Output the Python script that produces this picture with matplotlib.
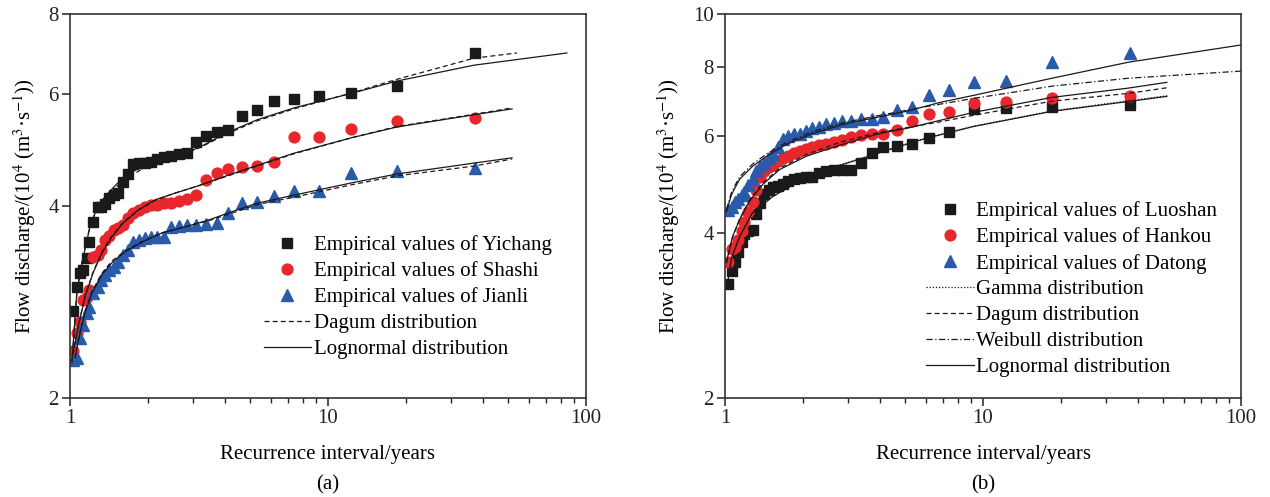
import matplotlib.pyplot as plt
from matplotlib.ticker import NullLocator

plt.rcParams['font.family'] = 'Liberation Serif'
plt.rcParams['mathtext.fontset'] = 'stix'

# plotting positions (recurrence interval, years), same for every station
T = [37.0, 18.5, 12.33, 9.25, 7.4, 6.17, 5.29, 4.63, 4.11, 3.7, 3.36, 3.08,
     2.85, 2.64, 2.47, 2.31, 2.18, 2.06, 1.95, 1.85, 1.76, 1.68, 1.61, 1.54,
     1.48, 1.42, 1.37, 1.32, 1.28, 1.23, 1.19, 1.16, 1.12, 1.09, 1.06, 1.03]

# (a) empirical values, 10^4 m3/s
yichang = [6.95, 6.17, 6.01, 5.95, 5.89, 5.84, 5.66, 5.54, 5.26, 5.22, 5.15, 5.04,
           4.84, 4.83, 4.79, 4.77, 4.74, 4.69, 4.67, 4.67, 4.65, 4.49, 4.36, 4.19,
           4.16, 4.12, 4.03, 3.99, 3.99, 3.77, 3.51, 3.32, 3.17, 3.14, 2.99, 2.74]
shashi = [5.50, 5.44, 5.28, 5.13, 5.13, 4.69, 4.62, 4.60, 4.57, 4.51, 4.39, 4.16,
          4.10, 4.07, 4.04, 4.04, 4.01, 4.01, 3.99, 3.94, 3.90, 3.83, 3.73, 3.69,
          3.67, 3.59, 3.54, 3.41, 3.35, 3.33, 2.95, 2.88, 2.85, 2.63, 2.53, 2.37]
jianli = [4.59, 4.54, 4.51, 4.22, 4.22, 4.15, 4.06, 4.04, 3.90, 3.76, 3.75, 3.73,
          3.73, 3.72, 3.71, 3.58, 3.58, 3.58, 3.56, 3.54, 3.51, 3.41, 3.35, 3.27,
          3.21, 3.17, 3.12, 3.06, 2.99, 2.92, 2.78, 2.72, 2.60, 2.48, 2.31, 2.29]

# (a) fitted curves
yc_T = [1.018, 1.064, 1.113, 1.195, 1.284, 1.404, 1.535, 1.738, 1.953, 2.335, 2.79,
        3.19, 4.10, 5.31, 7.38, 12.4, 18.5, 36.8, 84.3]
yc_logn = [2.29, 2.95, 3.26, 3.71, 4.01, 4.19, 4.35, 4.52, 4.64, 4.76, 4.84,
           4.95, 5.22, 5.46, 5.70, 6.01, 6.28, 6.65, 6.95]
yc_T2 = [1.018, 1.064, 1.113, 1.195, 1.284, 1.404, 1.535, 1.738, 1.953, 2.335, 2.79,
         3.19, 4.10, 5.31, 7.38, 12.4, 18.5, 36.8, 54.0]
yc_dagum = [2.27, 2.93, 3.27, 3.72, 4.00, 4.16, 4.31, 4.47, 4.60, 4.73, 4.83,
            4.94, 5.20, 5.44, 5.68, 6.02, 6.32, 6.82, 6.95]
ss_T = [1.027, 1.074, 1.143, 1.228, 1.331, 1.455, 1.605, 1.835, 2.136, 2.55, 3.13,
        4.10, 5.31, 7.38, 12.4, 18.5, 36.8, 51.7]
ss_logn = [2.35, 2.58, 2.88, 3.14, 3.38, 3.58, 3.76, 3.94, 4.09, 4.19, 4.30,
           4.47, 4.63, 4.84, 5.12, 5.32, 5.56, 5.68]
ss_dagum = [2.34, 2.58, 2.89, 3.15, 3.39, 3.59, 3.77, 3.94, 4.08, 4.19, 4.30,
            4.46, 4.62, 4.83, 5.12, 5.33, 5.57, 5.70]
jl_T = [1.046, 1.093, 1.143, 1.217, 1.331, 1.455, 1.634, 1.902, 2.274, 2.79, 3.43,
        4.10, 5.31, 7.38, 12.4, 18.5, 36.8, 51.7]
jl_logn = [2.32, 2.53, 2.72, 2.92, 3.12, 3.26, 3.39, 3.51, 3.63, 3.71, 3.80,
           3.90, 4.04, 4.16, 4.35, 4.49, 4.67, 4.76]
jl_dagum = [2.31, 2.53, 2.73, 2.94, 3.14, 3.28, 3.40, 3.52, 3.63, 3.71, 3.79,
            3.88, 4.02, 4.13, 4.32, 4.46, 4.62, 4.74]

# (b) empirical values
luoshan = [6.82, 6.76, 6.73, 6.71, 6.09, 5.94, 5.79, 5.74, 5.72, 5.58, 5.35, 5.21,
           5.19, 5.19, 5.17, 5.13, 5.06, 5.04, 5.02, 5.00, 4.96, 4.91, 4.87, 4.85,
           4.79, 4.71, 4.52, 4.33, 4.05, 4.02, 3.97, 3.84, 3.69, 3.54, 3.40, 3.22]
hankou = [7.08, 7.02, 6.91, 6.88, 6.62, 6.57, 6.38, 6.14, 6.06, 6.04, 6.01, 5.96,
          5.89, 5.84, 5.81, 5.77, 5.72, 5.67, 5.62, 5.58, 5.51, 5.46, 5.41, 5.32,
          5.26, 5.17, 5.04, 4.79, 4.54, 4.37, 4.19, 4.02, 3.88, 3.76, 3.73, 3.53]
datong = [8.49, 8.17, 7.55, 7.52, 7.26, 7.11, 6.76, 6.68, 6.49, 6.43, 6.43, 6.38,
          6.38, 6.32, 6.30, 6.24, 6.19, 6.12, 6.06, 6.04, 5.99, 5.91, 5.72, 5.55,
          5.46, 5.35, 5.28, 5.17, 5.00, 4.89, 4.75, 4.69, 4.60, 4.54, 4.46, 4.39]

# (b) fitted curves
dt_T = [1.013, 1.060, 1.138, 1.278, 1.448, 1.731, 2.183, 2.955, 3.73, 5.05, 6.78,
        9.19, 18.5, 36.6, 99.6]
dt_logn = [4.37, 4.69, 5.00, 5.28, 5.51, 5.79, 6.06, 6.32, 6.46, 6.65, 6.90,
           7.11, 7.64, 8.17, 8.78]
dt_weib = [4.40, 4.74, 5.05, 5.33, 5.56, 5.84, 6.11, 6.36, 6.50, 6.68, 6.85,
           7.02, 7.39, 7.64, 7.87]
hk_T = [1.013, 1.069, 1.138, 1.244, 1.398, 1.627, 2.068, 2.78, 3.97, 5.05, 6.78,
        9.19, 18.5, 36.6, 51.6]
hk_logn = [3.54, 3.93, 4.22, 4.56, 4.89, 5.21, 5.51, 5.77, 6.06, 6.19, 6.40,
           6.62, 7.05, 7.33, 7.51]
hk_dagum = [3.52, 3.92, 4.23, 4.58, 4.92, 5.24, 5.55, 5.84, 6.09, 6.21, 6.36,
            6.54, 6.94, 7.17, 7.34]
ls_T = [1.022, 1.060, 1.138, 1.278, 1.528, 1.944, 2.473, 3.32, 4.46, 6.03, 9.19,
        18.5, 36.6, 51.6]
ls_logn = [3.22, 3.60, 3.93, 4.35, 4.65, 4.96, 5.21, 5.44, 5.69, 5.94, 6.24,
           6.65, 6.93, 7.08]
ls_gamma = [3.20, 3.58, 3.92, 4.34, 4.65, 4.97, 5.22, 5.45, 5.70, 5.95, 6.25,
            6.66, 6.95, 7.10]

BLACK = '#1a1a1a'
RED = '#e8262b'
BLUE = '#2a5bab'
FS = 15

fig = plt.figure(figsize=(12.7, 4.97), dpi=100)
ax1 = fig.add_axes([70/1270, 99/497, 516/1270, 384/497])
ax2 = fig.add_axes([725/1270, 99/497, 516/1270, 384/497])


def style(ax, ymax, yticks):
    ax.set_xscale('log')
    ax.set_yscale('log')
    ax.set_xlim(1, 100)
    ax.set_ylim(2, ymax)
    ax.set_yticks(yticks)
    ax.set_yticklabels([str(t) for t in yticks])
    ax.yaxis.set_minor_locator(NullLocator())
    ax.set_xticks([1, 10, 100])
    ax.set_xticklabels(['1', '10', '100'])
    ax.tick_params(which='major', direction='out', length=6, width=1.1,
                   labelsize=FS, pad=2, colors='#222222')
    ax.tick_params(which='minor', direction='out', length=3.5, width=1.0, colors='#222222')
    for s in ax.spines.values():
        s.set_linewidth(1.2)
        s.set_color('#333333')
    ax.set_xlabel('Recurrence interval/years', fontsize=FS)
    ax.set_ylabel('Flow discharge/(10$^4$ (m$^3$·s$^{-1}$))', fontsize=FS)
    ax.xaxis.set_label_coords(0.5, -0.122)


mk = dict(linestyle='none', zorder=2)
ln = dict(color=BLACK, linewidth=0.9, zorder=3)
leg = dict(loc='upper left', frameon=False, fontsize=FS, numpoints=1, borderpad=0,
           borderaxespad=0, handlelength=2.3, handletextpad=0.1, labelspacing=0.3)

# ---- (a)
ax1.plot(T, yichang, marker='s', ms=7, color=BLACK, label='Empirical values of Yichang', **mk)
ax1.plot(T, shashi, marker='o', ms=7.8, color=RED, label='Empirical values of Shashi', **mk)
ax1.plot(T, jianli, marker='^', ms=9.3, color=BLUE, label='Empirical values of Jianli', **mk)
dash = (0, (4, 2.5))
ax1.plot(yc_T2, yc_dagum, linestyle=dash, label='Dagum distribution', **ln)
ax1.plot(ss_T, ss_dagum, linestyle=dash, **ln)
ax1.plot(jl_T, jl_dagum, linestyle=dash, **ln)
ax1.plot(yc_T, yc_logn, linestyle='-', label='Lognormal distribution', **ln)
ax1.plot(ss_T, ss_logn, linestyle='-', **ln)
ax1.plot(jl_T, jl_logn, linestyle='-', **ln)
style(ax1, 8, [2, 4, 6, 8])
ax1.yaxis.set_label_coords(-0.062, 0.5)
ax1.legend(bbox_to_anchor=(0.375, 0.424), **leg)
ax1.text(0.5, -0.2, '(a)', transform=ax1.transAxes, ha='center', va='top', fontsize=FS)

# ---- (b)
ax2.plot(T, luoshan, marker='s', ms=7, color=BLACK, label='Empirical values of Luoshan', **mk)
ax2.plot(T, hankou, marker='o', ms=7.8, color=RED, label='Empirical values of Hankou', **mk)
ax2.plot(T, datong, marker='^', ms=9.3, color=BLUE, label='Empirical values of Datong', **mk)
ax2.plot(ls_T, ls_gamma, linestyle=(0, (1, 1.5)), label='Gamma distribution', **ln)
ax2.plot(hk_T, hk_dagum, linestyle=dash, label='Dagum distribution', **ln)
ax2.plot(dt_T, dt_weib, linestyle=(0, (5, 2, 1, 2)), label='Weibull distribution', **ln)
ax2.plot(dt_T, dt_logn, linestyle='-', label='Lognormal distribution', **ln)
ax2.plot(hk_T, hk_logn, linestyle='-', **ln)
ax2.plot(ls_T, ls_logn, linestyle='-', **ln)
style(ax2, 10, [2, 4, 6, 8, 10])
ax2.yaxis.set_label_coords(-0.083, 0.5)
ax2.legend(bbox_to_anchor=(0.39, 0.512), **leg)
ax2.text(0.5, -0.2, '(b)', transform=ax2.transAxes, ha='center', va='top', fontsize=FS)

fig.savefig('out.png', dpi=100)
